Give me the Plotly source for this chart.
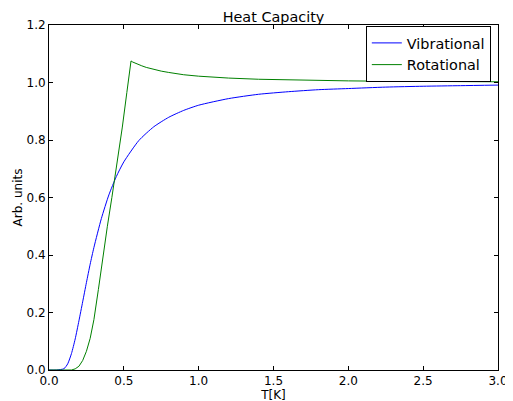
import plotly.graph_objects as go

# Vibrational heat capacity
t_vib = [0.0, 0.05, 0.1, 0.125, 0.15, 0.175, 0.2, 0.225, 0.25, 0.275, 0.3, 0.35, 0.4, 0.45,
         0.5, 0.6, 0.7, 0.8, 0.9, 1.0, 1.2, 1.4, 1.6, 1.8, 2.0, 2.25, 2.5, 2.75, 3.0]
c_vib = [0.0, 0.0, 0.0045, 0.0215, 0.057, 0.108, 0.171, 0.237, 0.304, 0.368, 0.426, 0.527,
         0.609, 0.673, 0.724, 0.798, 0.846, 0.879, 0.903, 0.921, 0.944, 0.959, 0.968, 0.975,
         0.979, 0.984, 0.987, 0.989, 0.991]

# Rotational heat capacity
t_rot = [0.0, 0.1, 0.15, 0.175, 0.2, 0.225, 0.25, 0.275, 0.3, 0.33, 0.36, 0.39, 0.42, 0.45,
         0.49, 0.52, 0.548, 0.56, 0.58, 0.6, 0.62, 0.65, 0.7, 0.75, 0.8, 0.85, 0.9, 1.0,
         1.1, 1.2, 1.4, 1.6, 1.8, 2.0, 2.25, 2.5, 2.75, 3.0]
c_rot = [0.0, 0.0, 0.0, 0.004, 0.013, 0.033, 0.065, 0.11, 0.175, 0.28, 0.395, 0.50, 0.60,
         0.70, 0.845, 0.965, 1.075, 1.071, 1.066, 1.062, 1.058, 1.0525, 1.045, 1.0395,
         1.035, 1.0307, 1.027, 1.022, 1.0184, 1.0154, 1.0113, 1.0087, 1.0069, 1.0056,
         1.0044, 1.0036, 1.0029, 1.0025]

x_ticks = [0.0, 0.5, 1.0, 1.5, 2.0, 2.5, 3.0]
y_ticks = [0.0, 0.2, 0.4, 0.6, 0.8, 1.0, 1.2]

FONT = "DejaVu Sans"

fig = go.Figure()
fig.add_trace(go.Scatter(x=t_vib, y=c_vib, mode="lines", name="Vibrational",
                         line=dict(color="#0000ff", width=1, shape="spline", smoothing=0.6)))
fig.add_trace(go.Scatter(x=t_rot, y=c_rot, mode="lines", name="Rotational",
                         line=dict(color="#008000", width=1)))

axis_common = dict(showline=True, linecolor="black", linewidth=1, mirror="ticks",
                   ticks="inside", ticklen=4, tickcolor="black", tickwidth=1,
                   showgrid=False, zeroline=False,
                   tickfont=dict(family=FONT, size=12, color="black"))

# The page body has an 8px default margin, so the layout is offset by 8px.
fig.update_layout(
    width=513, height=401,
    margin=dict(l=41, r=23, t=17, b=39),
    paper_bgcolor="white", plot_bgcolor="white",
    font=dict(family=FONT, size=12, color="black"),
    title=dict(text="Heat Capacity", x=0.5, xanchor="center", xref="paper",
               y=1, yref="paper", yanchor="bottom", pad=dict(b=3),
               font=dict(family=FONT, size=14.4, color="black")),
    xaxis=dict(range=[0, 3], tickvals=x_ticks, ticktext=[f"{v:.1f}" for v in x_ticks],
               title=dict(text="T[K]", standoff=2, font=dict(family=FONT, size=12)),
               automargin=False, **axis_common),
    yaxis=dict(range=[0, 1.2], tickvals=y_ticks, ticktext=[f"{v:.1f}" for v in y_ticks],
               title=dict(text="Arb. units", standoff=1, font=dict(family=FONT, size=12)),
               automargin=False, **axis_common),
    legend=dict(x=0.984, xanchor="right", y=0.997, yanchor="top",
                bordercolor="black", borderwidth=1, bgcolor="white",
                font=dict(family=FONT, size=14.4, color="black")),
    showlegend=True,
)

fig.write_html("out.html")
